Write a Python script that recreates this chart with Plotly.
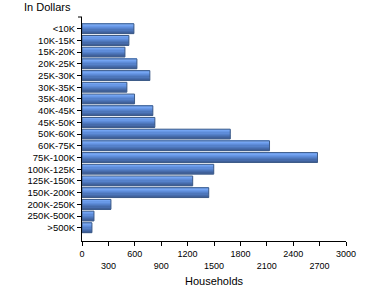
import plotly.graph_objects as go

categories = ["<10K", "10K-15K", "15K-20K", "20K-25K", "25K-30K", "30K-35K",
              "35K-40K", "40K-45K", "45K-50K", "50K-60K", "60K-75K", "75K-100K",
              "100K-125K", "125K-150K", "150K-200K", "200K-250K", "250K-500K", ">500K"]
households = [590, 533, 488, 624, 771, 510, 597, 805, 828, 1685, 2131, 2676,
              1497, 1258, 1440, 329, 136, 113]

tick_vals = [0, 300, 600, 900, 1200, 1500, 1800, 2100, 2400, 2700, 3000]
tick_text = ["0", "<br>300", "600", "<br>900", "1200", "<br>1500", "1800",
             "<br>2100", "2400", "<br>2700", "3000"]

# gradient bands (top -> bottom)
band_colors = ["#80b0fa", "#74a4f2", "#6898e6", "#5e8cd9", "#5581ca",
               "#4d76ba", "#466bab", "#40619b"]
W = 0.84
n = len(band_colors)
w = W / n

fig = go.Figure()
for i, c in enumerate(band_colors):
    fig.add_trace(go.Bar(
        x=households, y=categories, orientation="h",
        width=w, offset=-W / 2 + i * w,
        marker=dict(color=c, line=dict(width=0)),
        hoverinfo="skip", showlegend=False))
fig.add_trace(go.Bar(
    x=households, y=categories, orientation="h",
    width=W, offset=-W / 2,
    marker=dict(color="rgba(0,0,0,0)", line=dict(color="#3e5c88", width=1)),
    showlegend=False))

fig.update_layout(
    width=370, height=300,
    margin=dict(l=82, r=24, t=17, b=59),
    barmode="overlay",
    plot_bgcolor="white", paper_bgcolor="white",
    font=dict(family="Liberation Sans, Arial, sans-serif", color="#000"),
    title=dict(text="In Dollars", x=24 / 370, xanchor="left",
               y=1 - 7 / 300, yanchor="middle",
               font=dict(size=11, color="#000")),
    xaxis=dict(range=[0, 3000], tickvals=tick_vals, ticktext=tick_text,
               showgrid=False, zeroline=False, showline=True,
               linecolor="#000", linewidth=1, ticks="outside", ticklen=4,
               tickcolor="#000", tickfont=dict(size=9),
               title=dict(text="Households", font=dict(size=11), standoff=7)),
    yaxis=dict(range=[18.13, -1.0], type="category",
               showgrid=False, zeroline=False, showline=True,
               linecolor="#000", linewidth=1, ticks="outside", ticklen=4,
               tickcolor="#000", tickfont=dict(size=9.5)),
)
# tick at top end of y axis
fig.add_shape(type="line", xref="paper", yref="paper",
              x0=-4 / 264, x1=0, y0=1, y1=1,
              line=dict(color="#000", width=1))

fig.write_html("out.html")
